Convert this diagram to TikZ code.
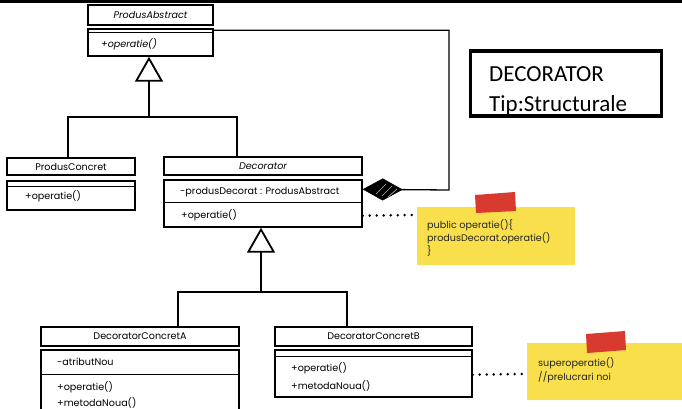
\documentclass[tikz,border=0pt]{standalone}
\usepackage{fontspec}
\setmainfont{Poppins}
\newfontfamily\titlefont{Carlito}
\usetikzlibrary{arrows.meta,calc,shadows}
\definecolor{noteyellow}{HTML}{F8DF4B}
\definecolor{tapered}{HTML}{D93A30}
\begin{document}
\begin{tikzpicture}[x=1pt,y=-1pt,
  umlbox/.style={draw,line width=1.4pt,fill=white,inner sep=0pt,font=\fontsize{9.6}{11}\selectfont,
    drop shadow={shadow xshift=1.3pt,shadow yshift=-1.3pt,fill=black,opacity=1}},
  txt/.style={font=\fontsize{9.6}{11}\selectfont,inner sep=0pt,anchor=west},
  sepline/.style={line width=1.1pt},
  conn/.style={line width=1.3pt},
  inh/.style={conn,-{Triangle[open,length=25pt,width=28pt,line width=1.8pt]}},
  comp/.style={conn,{Diamond[length=40pt,width=22pt,fill=black,line width=0.5pt]}-},
  dotline/.style={line width=2.8pt,line cap=round,dash pattern=on 0pt off 7pt},
  note/.style={fill=noteyellow,inner sep=0pt},
  notetxt/.style={font=\fontsize{9.6}{11}\selectfont,inner sep=0pt,anchor=west,text=black!85},
  tape/.style={fill=tapered}]
\useasboundingbox (0,0) rectangle (682,409);
\draw[line width=2.5pt] (0,1.5) -- (682,1.5);

% ProdusAbstract
\node[umlbox,minimum width=125,minimum height=20] (paH) at (150.5,15) {\itshape ProdusAbstract};
\node[umlbox,minimum width=125,minimum height=27] (paB) at (150.5,42.5) {};
\draw[sepline] ($(paB.north west)+(0,4)$) -- ($(paB.north east)+(0,4)$);
\node[txt] (paOp) at (101,44) {\itshape +operatie()};

% ProdusConcret
\node[umlbox,minimum width=128,minimum height=17] (pcH) at (71,166.5) {ProdusConcret};
\node[umlbox,minimum width=128,minimum height=29] (pcB) at (71,195.5) {};
\draw[sepline] ($(pcB.north west)+(0,6)$) -- ($(pcB.north east)+(0,6)$);
\node[txt] (pcOp) at (25,196) {+operatie()};

% Decorator
\node[umlbox,minimum width=198,minimum height=18] (decH) at (263,166) {\itshape Decorator};
\node[umlbox,minimum width=198,minimum height=47] (decB) at (263,203.5) {};
\draw[sepline] ($(decB.north west)+(0,23)$) -- ($(decB.north east)+(0,23)$);
\node[txt] (decAt) at (180,192) {-produsDecorat : ProdusAbstract};
\node[txt] (decOp) at (181,215) {+operatie()};

% DecoratorConcretA
\node[umlbox,minimum width=198,minimum height=19] (aH) at (140,336.5) {DecoratorConcretA};
\node[umlbox,minimum width=198,minimum height=70] (aB) at (140,385) {};
\draw[sepline] ($(aB.north west)+(0,25)$) -- ($(aB.north east)+(0,25)$);
\node[txt] (aAt) at (57,362) {-atributNou};
\node[txt] (aOp) at (57,387) {+operatie()};
\node[txt] (aNew) at (57,403) {+metodaNoua()};

% DecoratorConcretB
\node[umlbox,minimum width=197,minimum height=19] (bH) at (373.5,336.5) {DecoratorConcretB};
\node[umlbox,minimum width=197,minimum height=47] (bB) at (373.5,373.5) {};
\draw[sepline] ($(bB.north west)+(0,7)$) -- ($(bB.north east)+(0,7)$);
\node[txt] (bOp) at (291,368) {+operatie()};
\node[txt] (bNew) at (291,386) {+metodaNoua()};

% inheritance 1
\coordinate (j1) at (149,117);
\coordinate (j1a) at (68,117);
\coordinate (j1b) at (237,117);
\draw[conn] (pcH.north -| j1a) -- (j1a) -- (j1b) -- (decH.north -| j1b);
\draw[inh] (j1) -- (j1 |- paB.south);

% inheritance 2
\coordinate (j2) at (261,292);
\coordinate (j2a) at (178,292);
\coordinate (j2b) at (347,292);
\draw[conn] (aH.north -| j2a) -- (j2a) -- (j2b) -- (bH.north -| j2b);
\draw[inh] (j2) -- (j2 |- decB.south);

% composition
\coordinate (k1) at (449,190);
\draw[comp] ($(decB.north east)+(0,10)$) -- (k1) |- ($(paB.north east)+(0,2)$);
\draw[white!70!black,line width=0.6pt] (376,194) -- (386,184) (382,196) -- (392,186) (388,197) -- (397,189);

% note 1
\node[note,minimum width=158,minimum height=58] (note1) at (496,236) {};
\fill[tape] (475,195) -- (515,192) -- (516,211) -- (476,213) -- cycle;
\node[notetxt] (n1a) at (427,225) {public operatie()\{};
\node[notetxt] (n1b) at (427,238) {produsDecorat.operatie()};
\node[notetxt] (n1c) at (427,251) {\}};
\draw[dotline] ($(decB.south east)+(0,-12)$) -- ($(note1.west)+(-4,-21)$);

% note 2
\node[note,minimum width=160,minimum height=57] (note2) at (607,371.5) {};
\fill[tape] (586,334) -- (625,331) -- (626,350) -- (587,353) -- cycle;
\node[notetxt] (n2a) at (538,363) {superoperatie()};
\node[notetxt] (n2b) at (538,377) {//prelucrari noi};
\draw[dotline] ($(bB.south east)+(0,-23)$) -- ($(note2.west)+(-5,2.5)$);

% title box
\node[minimum width=191,minimum height=65,inner sep=0pt] (title) at (566,83.5) {};
\begin{scope}
\clip ($(title.north west)+(2,2)$) rectangle ($(title.south east)+(-2,-2)$);
\node[inner sep=0pt,anchor=base west,font=\titlefont\fontsize{23}{27}\selectfont] (t1) at (489,82) {DECORATOR};
\node[inner sep=0pt,anchor=base west,font=\titlefont\fontsize{23}{27}\selectfont] (t2) at (489,112) {Tip:Structurale};
\end{scope}
\draw[line width=3.5pt] (title.north west) rectangle (title.south east);
\end{tikzpicture}
\end{document}
